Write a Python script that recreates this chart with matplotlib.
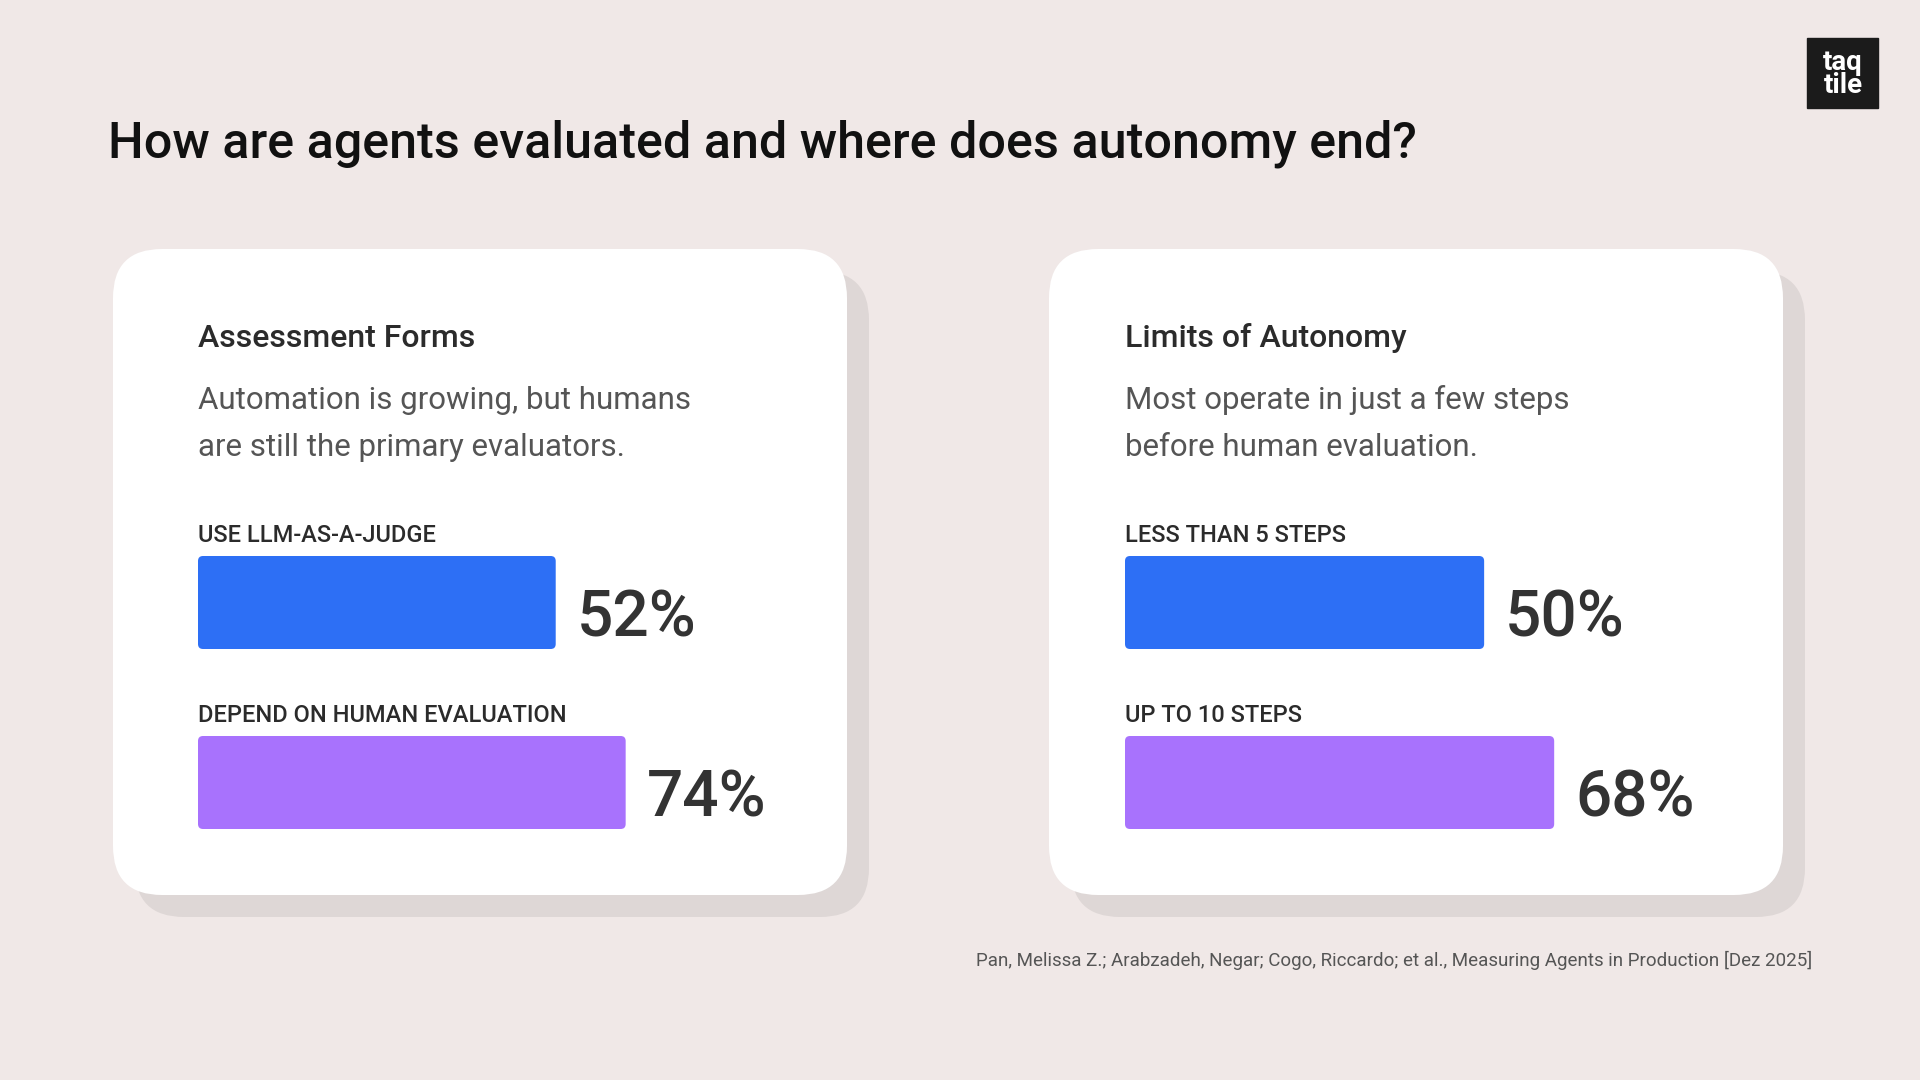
import numpy as np
import matplotlib.pyplot as plt
from matplotlib.patches import FancyBboxPatch, Rectangle

plt.rcParams['font.family'] = ['Roboto', 'DejaVu Sans']

# Данные
title = "How are agents evaluated and where does autonomy end?"
panel_titles = ["Assessment Forms", "Limits of Autonomy"]
panel_subtitles = [["Automation is growing, but humans", "are still the primary evaluators."],
                   ["Most operate in just a few steps", "before human evaluation."]]
left_labels = ["USE LLM-AS-A-JUDGE", "DEPEND ON HUMAN EVALUATION"]
left_values = np.array([52, 74])
right_labels = ["LESS THAN 5 STEPS", "UP TO 10 STEPS"]
right_values = np.array([50, 68])
# начало шкалы у каждой карточки (ось обрезана, как в оригинале)
axis_start = [-60.5, -42.3]
axis_end = [128.2, 111.9]
source = "Pan, Melissa Z.; Arabzadeh, Negar; Cogo, Riccardo; et al., Measuring Agents in Production [Dez 2025]"

bg_color = '#f0e8e7'
shadow_color = '#ded7d6'
bar_colors = ['#2d6ff5', '#a872fd']
dark = '#2b2b2b'
gray = '#555555'

W, H = 1920, 1080
fig = plt.figure(figsize=(W / 100, H / 100), dpi=100, facecolor=bg_color)

# Фоновая ось в пикселях
bg = fig.add_axes([0, 0, 1, 1])
bg.set_xlim(0, W)
bg.set_ylim(H, 0)
bg.axis('off')

bg.text(108, 157, title, fontsize=36.2, fontweight='medium', color='#111111', va='baseline')

# Логотип
bg.add_patch(Rectangle((1807, 38), 71, 70, color='#1b1b1b'))
bg.text(1843, 74, "taq\ntile", fontsize=20, fontweight='bold', color='white',
        ha='center', va='center', linespacing=0.78)

cards_x = [113, 1049]
text_x = [198, 1125]
card_w, card_h, card_y = 734, 646, 249
for cx, tx, t, sub in zip(cards_x, text_x, panel_titles, panel_subtitles):
    bg.add_patch(FancyBboxPatch((cx + 22, card_y + 22), card_w, card_h,
                                boxstyle='round,pad=0,rounding_size=49',
                                fc=shadow_color, ec='none'))
    bg.add_patch(FancyBboxPatch((cx, card_y), card_w, card_h,
                                boxstyle='round,pad=0,rounding_size=49',
                                fc='white', ec='none'))
    bg.text(tx, 347, t, fontsize=23, fontweight='medium', color=dark, va='baseline')
    for k, line in enumerate(sub):
        bg.text(tx, 409 + 47 * k, line, fontsize=22.5, fontweight='normal', color=gray,
                va='baseline')

bg.text(1812, 966, source, fontsize=13.5, color=gray, ha='right', va='baseline')

# Столбцы
bar_top, bar_bottom = 556, 829
pos = np.arange(2)
bar_h = 93 / 180
for i, (labels, vals) in enumerate([(left_labels, left_values), (right_labels, right_values)]):
    x0 = text_x[i]
    ax = fig.add_axes([x0 / W, 1 - bar_bottom / H, 600 / W, (bar_bottom - bar_top) / H])
    ax.set_xlim(axis_start[i], axis_end[i])
    ax.set_ylim(1 + bar_h / 2, -bar_h / 2)
    ax.axis('off')
    ax.patch.set_alpha(0)
    bars = ax.barh(pos, vals - axis_start[i], left=axis_start[i], height=bar_h,
                   color=bar_colors)
    # скругляем углы
    xpp = (axis_end[i] - axis_start[i]) / 600
    ypp = (1 + bar_h) / (bar_bottom - bar_top)
    for b in bars:
        bx, by = b.get_x(), b.get_y()
        bw, bh = b.get_width(), b.get_height()
        b.set_visible(False)
        ax.add_patch(FancyBboxPatch((bx, by), bw, bh,
                                    boxstyle='round,pad=0,rounding_size=%f' % (5 * xpp),
                                    mutation_aspect=ypp / xpp,
                                    fc=b.get_facecolor(), ec='none'))
    for p, v, lab in zip(pos, vals, labels):
        ax.annotate(lab, (axis_start[i], p - bar_h / 2), xytext=(0, 14),
                    textcoords='offset pixels', fontsize=17, fontweight='medium',
                    color=dark, va='baseline', ha='left', annotation_clip=False)
        ax.annotate(f"{v}%", (v, p), xytext=(21, -34), textcoords='offset pixels',
                    fontsize=46, fontweight='medium', color='#333333',
                    va='baseline', ha='left', annotation_clip=False)

fig.savefig('out.png', dpi=100, facecolor=bg_color)
